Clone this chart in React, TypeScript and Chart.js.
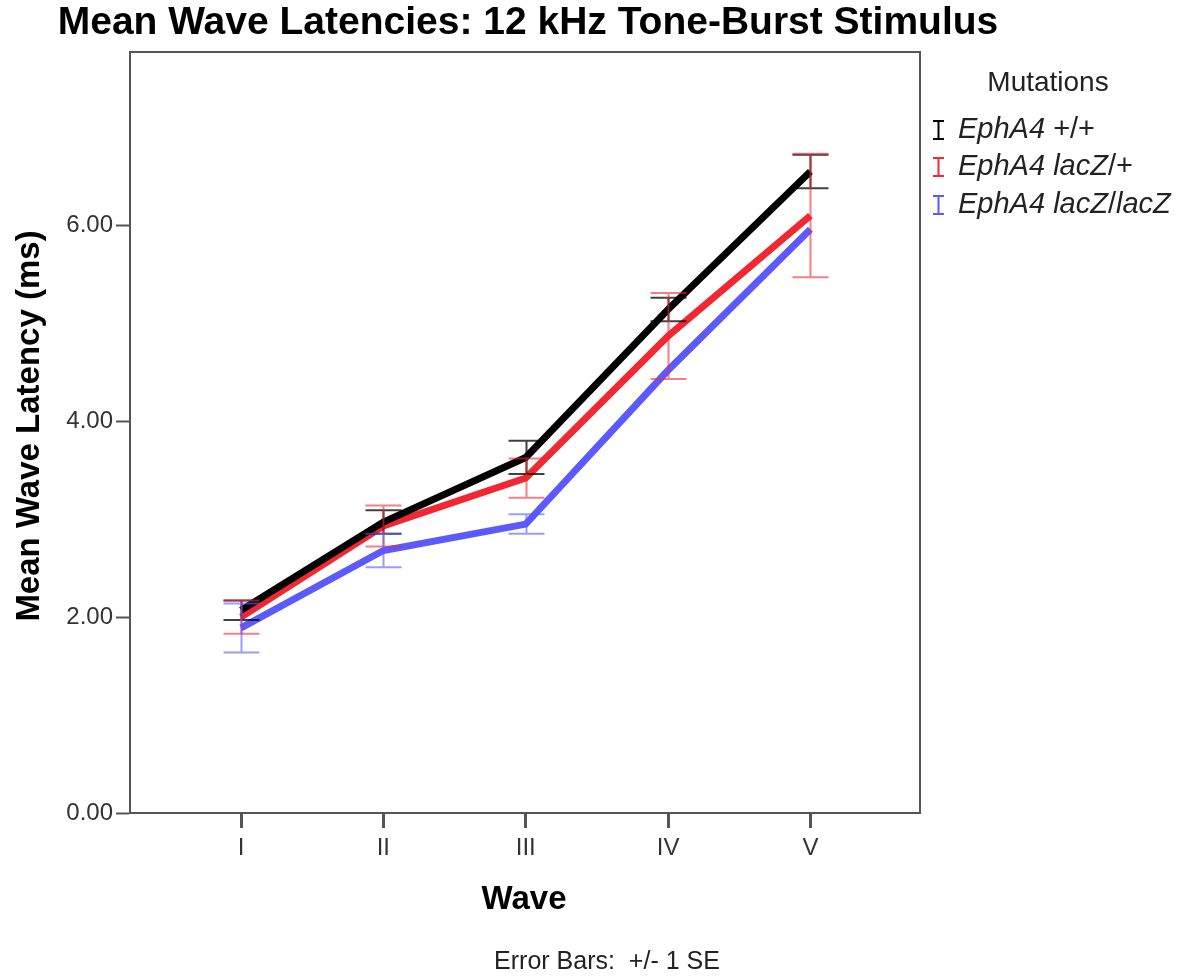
import React, { useEffect, useRef } from "react";
import { Chart, registerables } from "chart.js";

Chart.register(...registerables);

// ---- data ----
const waveLabels = ["I", "II", "III", "IV", "V"];
const wavePositions = [1, 2, 3, 4, 5];
const yTickValues = [0, 2, 4, 6];

const wtMean = [2.07, 2.97, 3.63, 5.14, 6.55];
const wtSE = [0.1, 0.12, 0.17, 0.12, 0.17];
const hetMean = [2.0, 2.93, 3.42, 4.87, 6.1];
const hetSE = [0.17, 0.21, 0.2, 0.44, 0.63];
const homMean = [1.89, 2.68, 2.95, 4.52, 5.96];
const homSE: (number | null)[] = [0.25, 0.17, 0.1, null, null];

const chartTitle = "Mean Wave Latencies: 12 kHz Tone-Burst Stimulus";
const xTitle = "Wave";
const yTitle = "Mean Wave Latency (ms)";
const footer = "Error Bars:  +/- 1 SE";
const legendTitle = "Mutations";
// legend entries: segments [text, italic]
const legendEntries: [string, boolean][][] = [
  [["EphA4", true], [" +/+", false]],
  [["EphA4", true], [" ", false], ["lacZ", true], ["/+", false]],
  [["EphA4", true], [" ", false], ["lacZ", true], ["/", false], ["lacZ", true]],
];

const lineColors = ["#000000", "rgb(240,40,50)", "rgb(90,90,255)"];
const errColors = ["rgba(0,0,0,0.75)", "rgba(240,40,50,0.6)", "rgba(90,90,255,0.6)"];
const means = [wtMean, hetMean, homMean];
const ses: (number | null)[][] = [wtSE, hetSE, homSE];

const FONT = '"Liberation Sans", Arial, sans-serif';

export default function App() {
  const ref = useRef<HTMLCanvasElement | null>(null);

  useEffect(() => {
    if (!ref.current) return;

    const errorBars = {
      id: "errorBars",
      afterDatasetsDraw(chart: any) {
        const ctx = chart.ctx;
        const xs = chart.scales.x;
        const ys = chart.scales.y;
        ctx.save();
        for (let i = 0; i < means.length; i++) {
          ctx.strokeStyle = errColors[i];
          ctx.lineWidth = 2;
          for (let j = 0; j < wavePositions.length; j++) {
            const se = ses[i][j];
            if (se == null) continue;
            const x = Math.round(xs.getPixelForValue(wavePositions[j])) + 0.5;
            const yt = ys.getPixelForValue(means[i][j] + se);
            const yb = ys.getPixelForValue(means[i][j] - se);
            ctx.beginPath();
            ctx.moveTo(x, yt);
            ctx.lineTo(x, yb);
            ctx.moveTo(x - 18, yt);
            ctx.lineTo(x + 18, yt);
            ctx.moveTo(x - 18, yb);
            ctx.lineTo(x + 18, yb);
            ctx.stroke();
          }
        }
        ctx.restore();
      },
    };

    const texts = {
      id: "texts",
      afterDraw(chart: any) {
        const ctx = chart.ctx;
        const a = chart.chartArea;
        ctx.save();
        // plot frame
        ctx.strokeStyle = "#555";
        ctx.lineWidth = 2;
        ctx.strokeRect(a.left, a.top, a.right - a.left, a.bottom - a.top);

        ctx.fillStyle = "#000";
        ctx.textAlign = "center";
        ctx.textBaseline = "middle";
        ctx.font = `bold 39px ${FONT}`;
        ctx.fillText(chartTitle, 528, 23);

        ctx.font = `bold 33px ${FONT}`;
        ctx.fillText(xTitle, 524, 900);

        ctx.save();
        ctx.translate(30, 426);
        ctx.rotate(-Math.PI / 2);
        ctx.fillText(yTitle, 0, 0);
        ctx.restore();

        ctx.fillStyle = "#222";
        ctx.font = `25px ${FONT}`;
        ctx.fillText(footer, 607, 962);

        // legend
        ctx.font = `28px ${FONT}`;
        ctx.fillText(legendTitle, 1048, 83);
        ctx.textAlign = "left";
        const rowY = [130, 167, 205];
        for (let i = 0; i < legendEntries.length; i++) {
          const y = rowY[i];
          ctx.strokeStyle = lineColors[i];
          ctx.lineWidth = 2;
          ctx.beginPath();
          ctx.moveTo(938.5, y - 9);
          ctx.lineTo(938.5, y + 9);
          ctx.moveTo(933, y - 9);
          ctx.lineTo(944, y - 9);
          ctx.moveTo(933, y + 9);
          ctx.lineTo(944, y + 9);
          ctx.stroke();
          let x = 958;
          ctx.fillStyle = "#222";
          for (const [t, it] of legendEntries[i]) {
            ctx.font = `${it ? "italic " : ""}29px ${FONT}`;
            ctx.fillText(t, x, y);
            x += ctx.measureText(t).width;
          }
        }
        ctx.restore();
      },
    };

    const chart = new Chart(ref.current, {
      type: "line",
      data: {
        datasets: means.map((m, i) => ({
          label: legendEntries[i].map((s) => s[0]).join(""),
          data: m.map((v, j) => ({ x: wavePositions[j], y: v })),
          borderColor: lineColors[i],
          backgroundColor: lineColors[i],
          borderWidth: 7,
          pointRadius: 0,
          tension: 0,
          fill: false,
        })),
      },
      options: {
        responsive: false,
        animation: false,
        layout: { padding: { top: 52, right: 268, left: 0, bottom: 0 } },
        plugins: {
          legend: { display: false },
          title: { display: false },
          tooltip: { enabled: false },
        },
        scales: {
          x: {
            type: "linear",
            min: 0.22,
            max: 5.77,
            afterFit: (s: any) => {
              s.height = 165;
            },
            afterBuildTicks: (s: any) => {
              s.ticks = wavePositions.map((v) => ({ value: v }));
            },
            ticks: {
              autoSkip: false,
              maxRotation: 0,
              padding: 6,
              color: "#333",
              font: { family: FONT, size: 24 },
              callback: (v: any) => {
                const idx = wavePositions.indexOf(Number(v));
                return idx >= 0 ? waveLabels[idx] : "";
              },
            },
            grid: {
              drawOnChartArea: false,
              drawTicks: true,
              tickLength: 15,
              tickWidth: 3,
              tickColor: "#555",
            },
            border: { display: true, color: "#555", width: 2 },
          },
          y: {
            type: "linear",
            min: 0,
            max: 7.77,
            afterFit: (s: any) => {
              s.width = 130;
            },
            afterBuildTicks: (s: any) => {
              s.ticks = yTickValues.map((v) => ({ value: v }));
            },
            ticks: {
              padding: 3,
              color: "#333",
              font: { family: FONT, size: 24 },
              callback: (v: any) => Number(v).toFixed(2),
            },
            grid: {
              drawOnChartArea: false,
              drawTicks: true,
              tickLength: 14,
              tickWidth: 2,
              tickColor: "#555",
            },
            border: { display: true, color: "#555", width: 2 },
          },
        },
      },
      plugins: [errorBars, texts],
    });

    return () => chart.destroy();
  }, []);

  return (
    <div style={{ position: "absolute", left: 0, top: 0, width: 1188, height: 978, background: "#fff" }}>
      <canvas ref={ref} width={1188} height={978} style={{ display: "block" }} />
    </div>
  );
}
